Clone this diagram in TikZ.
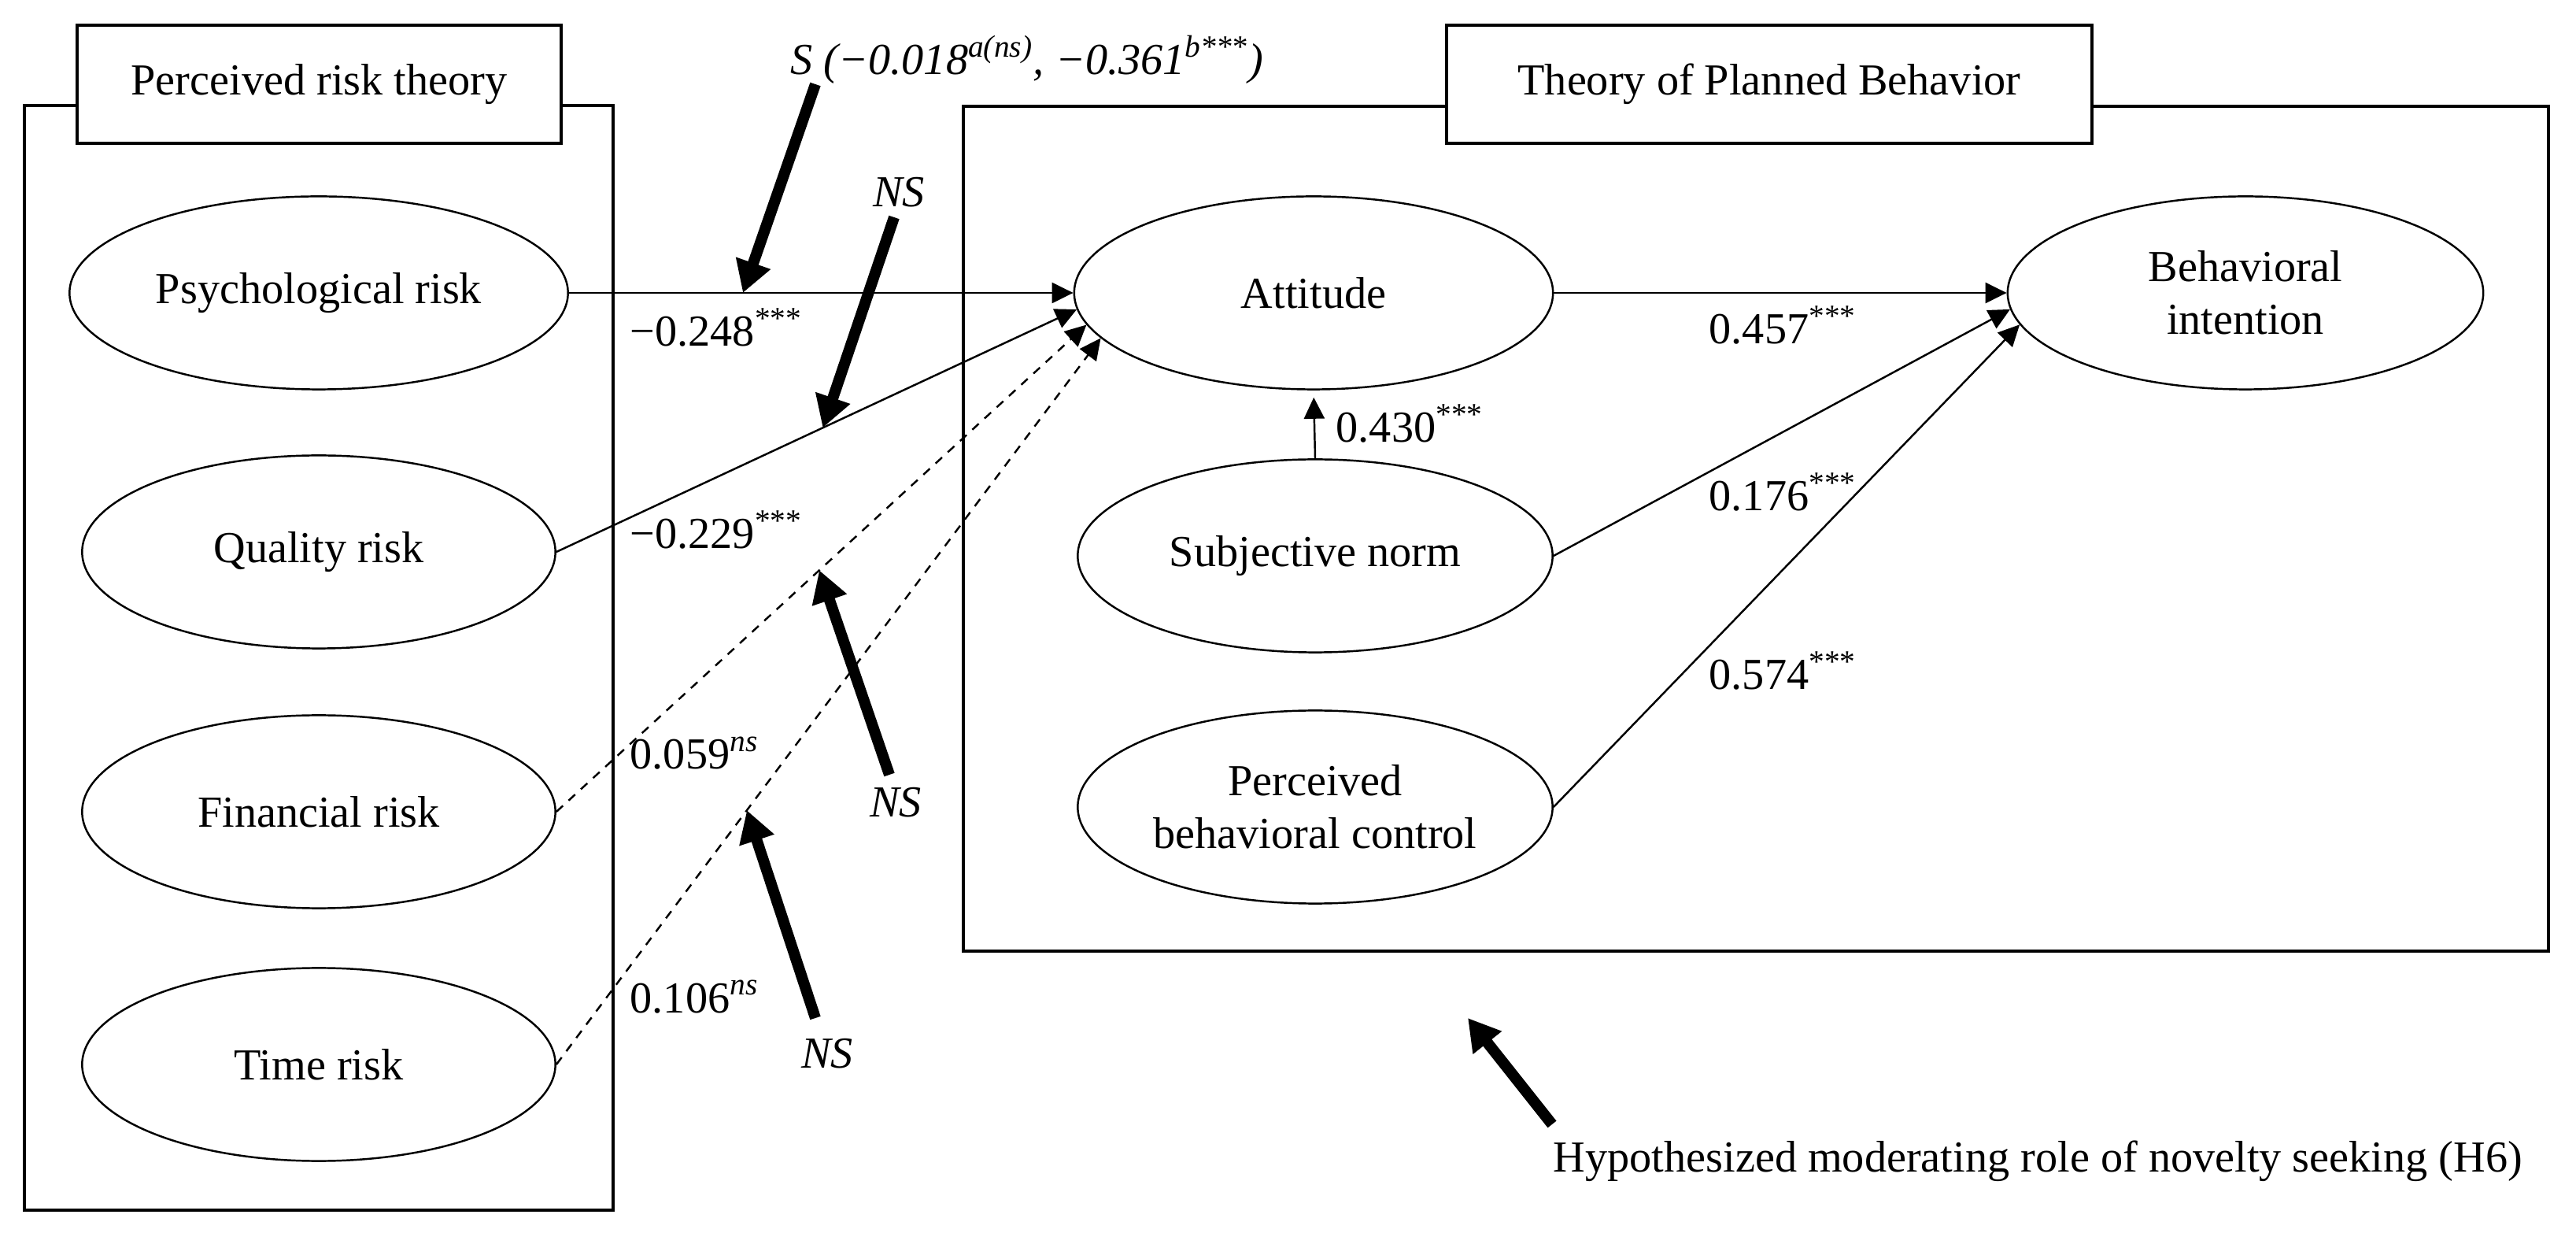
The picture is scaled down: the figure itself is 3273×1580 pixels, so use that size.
\documentclass[tikz,border=0pt]{standalone}
\usepackage{fontspec}
\setmainfont{Liberation Serif}
\usetikzlibrary{arrows.meta,shapes.geometric}
\begin{document}
\begin{tikzpicture}[x=0.01cm,y=-0.01cm,
  every node/.style={font=\fontsize{16pt}{19pt}\selectfont},
  ell/.style={ellipse, draw, line width=0.7pt, minimum height=2.45cm, inner sep=0pt, align=center, fill=white},
  frame/.style={draw, line width=0.9pt},
  titlebox/.style={draw, line width=1.1pt, fill=white, minimum height=1.5cm, inner sep=0pt},
  link/.style={line width=0.7pt, -{Triangle[length=0.27cm,width=0.26cm]}},
  dlink/.style={link, dash pattern=on 3.2pt off 2.8pt},
  modarrow/.style={line width=0.14cm, -{Triangle[length=0.4cm,width=0.44cm]}},
  lab/.style={anchor=base west, inner sep=0pt},
  nslab/.style={anchor=base, inner sep=0pt}]
\useasboundingbox (0,0) rectangle (3273,1580);
\fill[white] (0,0) rectangle (3273,1580);

% frames
\draw[frame] (31,134) rectangle (779,1537);
\draw[frame] (1224,135) rectangle (3238,1208);
\node[titlebox, minimum width=6.15cm] (prt) at (405.5,107) {Perceived risk theory};
\node[titlebox, minimum width=8.20cm] (tpb) at (2248,107) {Theory of Planned Behavior};

% constructs
\node[ell, minimum width=6.33cm] (psy) at (405,372) {Psychological risk};
\node[ell, minimum width=6.01cm] (qua) at (405,701) {Quality risk};
\node[ell, minimum width=6.01cm] (fin) at (405,1031) {Financial risk};
\node[ell, minimum width=6.01cm] (tim) at (405,1352) {Time risk};
\node[ell, minimum width=6.08cm] (att) at (1669,372) {Attitude};
\node[ell, minimum width=6.03cm] (sn) at (1671,706) {Subjective norm};
\node[ell, minimum width=6.03cm] (pbc) at (1671,1025) {Perceived\\behavioral control};
\node[ell, minimum width=6.04cm] (bi) at (2853,372) {Behavioral\\intention};

% paths
\draw[link] (psy.east) -- coordinate[pos=0.345] (m1) (att.west);
\draw[link] (qua.east) -- coordinate[pos=0.512] (m2) (att.184);
\draw[dlink] (fin.east) -- coordinate[pos=0.496] (m3) (att.188);
\draw[dlink] (tim.east) -- coordinate[pos=0.35] (m4) (att.192);
\draw[link] (att.east) -- (bi.west);
\draw[link] (sn.east) -- (bi.184);
\draw[link] (pbc.east) -- (bi.188);
\draw[link, shorten >=0.09cm] (sn.north) -- (att.south);

% moderating arrows
\coordinate (sT) at (1036,107);
\coordinate (n1T) at (1136,276);
\coordinate (n2T) at (1130,984);
\coordinate (n3T) at (1036,1293);
\coordinate (hT) at (1972,1428);
\coordinate (hH) at (1865,1293);
\draw[modarrow] (sT) -- (m1);
\draw[modarrow] (n1T) -- (m2);
\draw[modarrow] (n2T) -- (m3);
\draw[modarrow] (n3T) -- (m4);
\draw[modarrow] (hT) -- (hH);

% labels
\node[lab] (l1) at (800,440) {−0.248\textsuperscript{***}};
\node[lab] (l2) at (800,697) {−0.229\textsuperscript{***}};
\node[lab] (l3) at (800,977) {0.059\textsuperscript{\textit{ns}}};
\node[lab] (l4) at (800,1286) {0.106\textsuperscript{\textit{ns}}};
\node[lab] (l5) at (2171,437) {0.457\textsuperscript{***}};
\node[lab] (l6) at (2171,649) {0.176\textsuperscript{***}};
\node[lab] (l7) at (2171,876) {0.574\textsuperscript{***}};
\node[lab] (l8) at (1697,562) {0.430\textsuperscript{***}};
\node[lab] (sl) at (1004,95) {\textit{S (−0.018\textsuperscript{a(ns)}, −0.361\textsuperscript{b***})}};
\node[nslab] (ns1) at (1142,263) {\textit{NS}};
\node[nslab] (ns2) at (1138,1038) {\textit{NS}};
\node[nslab] (ns3) at (1051,1356) {\textit{NS}};
\node[lab] (h6) at (1973,1488) {Hypothesized moderating role of novelty seeking (H6)};
\end{tikzpicture}
\end{document}
